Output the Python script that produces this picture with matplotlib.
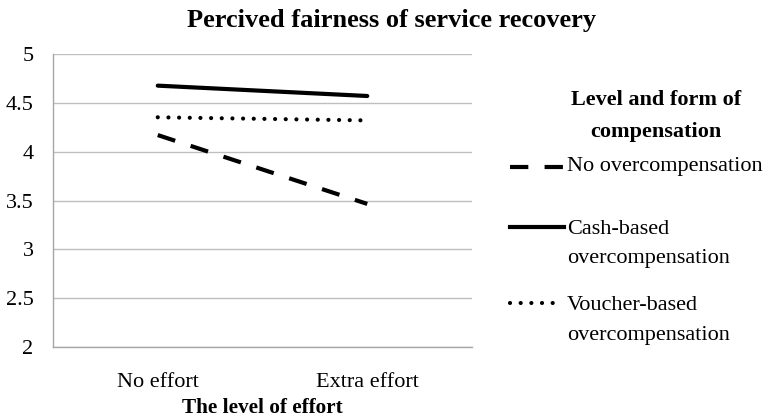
import matplotlib
matplotlib.use("Agg")
import matplotlib.pyplot as plt
from matplotlib.lines import Line2D

plt.rcParams['font.family'] = ['Liberation Serif', 'DejaVu Serif']

# data
efforts = ['No effort', 'Extra effort']
no_over = [4.17, 3.465]
cash_over = [4.676, 4.57]
voucher_over = [4.352, 4.32]
series_names = ['No overcompensation', 'Cash-based\novercompensation',
                'Voucher-based\novercompensation']
yticks = [2, 2.5, 3, 3.5, 4, 4.5, 5]

W, H = 766, 419
fig = plt.figure(figsize=(W / 100, H / 100), dpi=100)
ax = fig.add_axes([53 / W, 1 - 347 / H, (472 - 53) / W, (347 - 54) / H])

x = list(range(len(efforts)))
lw = 3.0
dash = (0, (4.4, 3.9))
dots = (0, (0.01, 2.55))
ax.plot(x, no_over, color='black', lw=lw, linestyle=dash)
ax.plot(x, cash_over, color='black', lw=lw, solid_capstyle='round')
ax.plot(x, voucher_over, color='black', lw=lw, linestyle=dots,
        dash_capstyle='round')

ax.set_xlim(-0.5, 1.5)
ax.set_ylim(2, 5)
ax.set_yticks(yticks)
ax.set_yticklabels([f'{t:g}' for t in yticks])
ax.set_xticks(x)
ax.set_xticklabels(efforts)
ax.tick_params(length=0, labelsize=16)
ax.tick_params(axis='y', pad=14)
ax.tick_params(axis='x', pad=19)
ax.grid(axis='y', color='#BFBFBF', lw=1)
ax.set_axisbelow(True)
for s in ['top', 'right']:
    ax.spines[s].set_visible(False)
for s in ['left', 'bottom']:
    ax.spines[s].set_color('#A6A6A6')
    ax.spines[s].set_linewidth(1)
ax.set_xlabel('The level of effort', fontsize=15.3, fontweight='bold', labelpad=4)

fig.text(392 / W, 1 - 21 / H, 'Percived fairness of service recovery',
         ha='center', va='center', fontsize=19, fontweight='bold')

# legend, laid out like the Excel original
fig.text(656 / W, 1 - 116 / H, 'Level and form of\ncompensation', ha='center',
         va='center', fontsize=16, fontweight='bold', linespacing=1.82)
keys = [dict(linestyle=dash), dict(linestyle='-'),
        dict(linestyle=dots, dash_capstyle='round')]
key_ends = [564, 564, 558]
rows = [167, 227, 303]
for name, kw, x1, yy in zip(series_names, keys, key_ends, rows):
    fy = 1 - yy / H
    fig.add_artist(Line2D([510 / W, x1 / W], [fy, fy], color='black', lw=lw,
                          transform=fig.transFigure, **kw))
    if '\n' in name:
        fig.text(567 / W, 1 - (yy - 7) / H, name, ha='left', va='top',
                 fontsize=16, linespacing=1.75)
    else:
        fig.text(567 / W, fy, name, ha='left', va='center', fontsize=16)

fig.savefig('out.png', dpi=100)
